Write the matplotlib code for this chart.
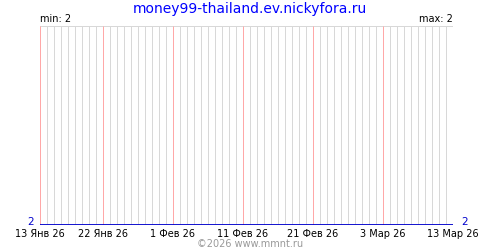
import datetime as dt
import matplotlib
matplotlib.use("Agg")
import matplotlib.pyplot as plt
import matplotlib.dates as mdates

title = "money99-thailand.ev.nickyfora.ru"
start = dt.date(2026, 1, 13)
end = dt.date(2026, 3, 13)
days = [start + dt.timedelta(days=i) for i in range((end - start).days + 1)]
values = [2] * len(days)

label_dates = [dt.date(2026, 1, 13), dt.date(2026, 1, 22), dt.date(2026, 2, 1),
               dt.date(2026, 2, 11), dt.date(2026, 2, 21), dt.date(2026, 3, 3),
               dt.date(2026, 3, 13)]
label_texts = ["13 Янв 26", "22 Янв 26", "1 Фев 26", "11 Фев 26",
               "21 Фев 26", "3 Мар 26", "13 Мар 26"]

fig = plt.figure(figsize=(5, 2.5), dpi=100)
ax = fig.add_axes([0.08, 0.1, 0.826, 0.796])

# daily grid in gray, labelled dates in pink on top
gray_days = [mdates.date2num(d) for d in days if d not in label_dates]
ax.vlines(gray_days, 2, 3, color="#d8d8d8", linewidth=0.72, zorder=1, snap=True)
ax.vlines(mdates.date2num(label_dates), 2, 3, color="#ffa8a8", linewidth=0.72,
          zorder=2, snap=True)
ax.axhline(3, color="#d8d8d8", linewidth=0.72, zorder=1, snap=True)

ax.plot(mdates.date2num(days), values, color="#0000cc", linewidth=1.3, zorder=3,
        solid_capstyle="butt")

ax.set_xlim(mdates.date2num(start), mdates.date2num(end))
ax.set_ylim(2, 3)
for s in ax.spines.values():
    s.set_visible(False)
ax.set_xticks(mdates.date2num(label_dates))
ax.set_xticklabels(label_texts, fontsize=7)
ax.tick_params(axis="x", length=0, pad=3)
ax.set_yticks([])

ax.text(-0.016, 0, "2", transform=ax.transAxes, ha="right", va="baseline",
        color="#0000cc", fontsize=7.5)
ax.text(1.02, 0, "2", transform=ax.transAxes, ha="left", va="baseline",
        color="#0000cc", fontsize=7.5)
ax.text(0, 1.01, "min: 2", transform=ax.transAxes, ha="left", va="bottom",
        fontsize=7)
ax.text(1, 1.01, "max: 2", transform=ax.transAxes, ha="right", va="bottom",
        fontsize=7)

fig.text(0.5, 0.99, title, ha="center", va="top", color="#0000ff", fontsize=10)
fig.text(0.5, 0.005, "©2026 www.mmnt.ru", ha="center", va="bottom",
         color="#999999", fontsize=7)

fig.savefig("out.png", dpi=100)
